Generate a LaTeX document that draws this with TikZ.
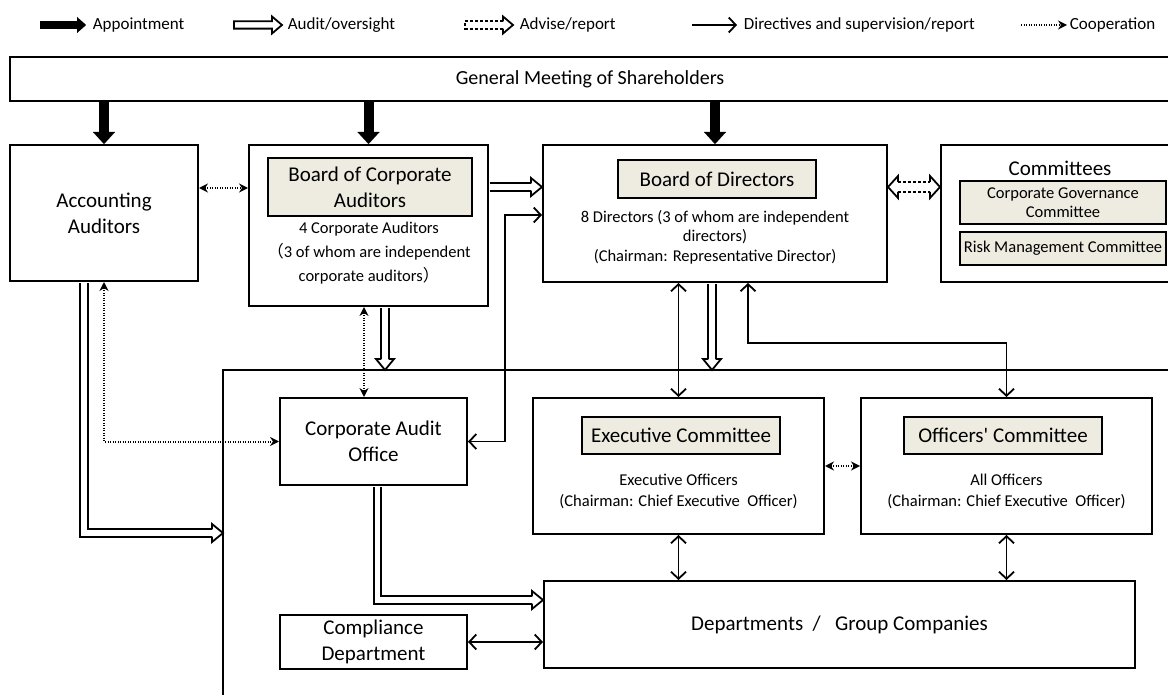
\documentclass[tikz,border=0pt]{standalone}
\usepackage{fontspec}
\setmainfont{Carlito}
\newfontfamily\cjkfont{Noto Sans CJK JP}
\usepackage{tikz}
\usetikzlibrary{arrows.meta,calc,positioning}
\definecolor{panel}{HTML}{EEECE1}

\tikzstyle{gov_style}=[
	x=1pt, y=-1pt, line width=1.8pt,
	box/.style={rectangle,draw,line width=2pt,inner sep=0pt,align=center},
	box_title/.style={rectangle,draw,fill=panel,line width=2pt,inner sep=0pt,align=center,font=\fontsize{21}{26}\selectfont},
	big_text/.style={inner sep=0pt,align=center,font=\fontsize{21}{26}\selectfont},
	small_text/.style={inner sep=0pt,align=center,font=\fontsize{16.5}{21}\selectfont},
	legend_text/.style={inner sep=0pt,anchor=west,font=\fontsize{17}{20}\selectfont},
	appoint_edge/.style={line width=10pt,-{Triangle[length=12pt,width=22pt,line width=0.01pt]}},
	direct_edge/.style={line width=1.8pt,>={Straight Barb[length=7pt,width=15pt]}},
	coop_edge/.style={line width=2pt,dash pattern=on 1.3pt off 1.2pt,>={Stealth[length=9pt,width=9pt]}},
	audit_edge/.style={line width=1.8pt,double,double distance=5.5pt,shorten >=11pt,shorten <=1pt},
	advise_edge/.style={line width=1.8pt,dash pattern=on 3pt off 2pt},
	frame_edge/.style={line width=1.8pt},
	hhead/.pic={\draw[fill=white,line width=1.8pt,line join=miter] (-11,3.65) -- (-11,9) -- (0,0) -- (-11,-9) -- (-11,-3.65);},
	hkey/.pic={\draw[fill=white,line width=1.8pt,line join=miter] (0,0) -- (-10,-8.5) -- (-10,-3.65) -- (-48,-3.65) -- (-48,3.65) -- (-10,3.65) -- (-10,8.5) -- cycle;},
	dkey/.pic={\draw[advise_edge] (-10,-3.65) -- (-48,-3.65) -- (-48,3.65) -- (-10,3.65);
		\draw[line width=1.8pt,line join=miter] (-10,-3.65) -- (-10,-8.5) -- (0,0) -- (-10,8.5) -- (-10,3.65);}
]

\begin{document}
\begin{tikzpicture}[gov_style]
		\useasboundingbox (0,0) rectangle (1168,695);
		
		% legend
		\node[legend_text]   (k1) at (92,25)   {Appointment};
		\node[legend_text]   (k2) at (287,25)  {Audit/oversight};
		\node[legend_text]   (k3) at (519,25)  {Advise/report};
		\node[legend_text]   (k4) at (743,25)  {Directives and supervision/report};
		\node[legend_text]   (k5) at (1069,25) {Cooperation};
		
		\draw[appoint_edge,line width=8pt,-{Triangle[length=9pt,width=16pt,line width=0.01pt]}] ([xshift=-52pt]k1.west) -- ([xshift=-6pt]k1.west);
		\pic at ([xshift=-5pt]k2.west) {hkey};
		\pic at ([xshift=-6pt]k3.west) {dkey};
		\draw[direct_edge,->] ([xshift=-51pt]k4.west) -- ([xshift=-6pt]k4.west);
		\draw[coop_edge,->] ([xshift=-48pt]k5.west) -- ([xshift=-2pt]k5.west);
		
		% top row
		\node[box,font=\fontsize{20}{22}\selectfont,minimum width=1160pt,minimum height=44pt] (gm) at (590,79) {General Meeting of Shareholders};
		
		\node[box,big_text,minimum width=188pt,minimum height=136pt] (accnt) at (104,213) {Accounting\\Auditors};
		
		\node[box,minimum width=239pt,minimum height=161pt] (bca) at (368.5,225.5) {};
		\node[box_title,minimum width=204pt,minimum height=58pt] (bca_t) at (370,187) {Board of Corporate\\Auditors};
		\node[small_text,font=\fontsize{16.5}{24}\selectfont] (bca_n) at (369,253) {4 Corporate Auditors\\{\cjkfont （}3 of whom are independent\\corporate auditors{\cjkfont ）}};
		
		\node[box,minimum width=344pt,minimum height=137pt] (bod) at (715,213.5) {};
		\node[box_title,minimum width=198pt,minimum height=38pt] (bod_t) at (717,179) {Board of Directors};
		\node[small_text,font=\fontsize{16.5}{19.5}\selectfont] (bod_n) at (715,237) {8 Directors (3 of whom are independent\\directors)\\(Chairman: Representative Director)};
		
		\node[box,minimum width=238pt,minimum height=137pt] (comm) at (1060,213.5) {};
		\node[big_text] (comm_l) at (1060,168) {Committees};
		\node[box_title,small_text,minimum width=206pt,minimum height=43pt,font=\fontsize{16.5}{18.5}\selectfont] (cg) at (1063,202.5) {Corporate Governance\\Committee};
		\node[box_title,small_text,minimum width=206pt,minimum height=33pt,font=\fontsize{16.5}{18.5}\selectfont] (rm) at (1063,248.5) {Risk Management Committee};
		
		% lower part
		\coordinate (fr) at (223,370);
		\coordinate (fr_b) at (223,700);
		\coordinate (fr_r) at (1175,370);
		\draw[frame_edge] (fr_b) -- (fr) -- (fr_r);
		
		\node[box,big_text,minimum width=187pt,minimum height=87pt] (office) at (373.5,441.5) {Corporate Audit\\Office};
		
		\node[box,minimum width=291pt,minimum height=136pt] (exec) at (678.5,466) {};
		\node[box_title,minimum width=198pt,minimum height=37pt] (exec_t) at (681,435.5) {Executive Committee};
		\node[small_text] (exec_n) at (678.5,491) {Executive Officers\\(Chairman: Chief Executive\ \ Officer)};
		
		\node[box,minimum width=291pt,minimum height=136pt] (offc) at (1006.5,466) {};
		\node[box_title,minimum width=198pt,minimum height=37pt] (offc_t) at (1003,435.5) {Officers\textquotesingle{} Committee};
		\node[small_text] (offc_n) at (1006.5,491) {All Officers\\(Chairman: Chief Executive\ \ Officer)};
		
		\node[box,big_text,minimum width=591pt,minimum height=87pt] (dept) at (839.5,624.5) {Departments\ \ /\ \ \ Group Companies};
		\node[box,big_text,minimum width=187pt,minimum height=54pt] (comp) at (373.5,642) {Compliance\\Department};
		
		% appointment
		\draw[appoint_edge] (accnt.north |- gm.south) -- (accnt.north);
		\draw[appoint_edge] (bca.north |- gm.south) -- (bca.north);
		\draw[appoint_edge] (bod.north |- gm.south) -- (bod.north);
		
		% audit / oversight
		\draw[audit_edge] (bca.east |- 0,187) -- (bod.west |- 0,187);
		\pic at (bod.west |- 0,187) {hhead};
		\draw[audit_edge] (bca.south -| 385,0) -- (fr -| 385,0);
		\pic[rotate=-90] at (fr -| 385,0) {hhead};
		\draw[audit_edge] (bod.south -| 712,0) -- (fr -| 712,0);
		\pic[rotate=-90] at (fr -| 712,0) {hhead};
		\draw[audit_edge] (accnt.south -| 84,0) |- (fr |- 0,533);
		\pic at (fr |- 0,533) {hhead};
		\draw[audit_edge] (office.south -| 377.5,0) |- (dept.west |- 0,600);
		\pic at (dept.west |- 0,600) {hhead};
		
		% advise / report
		\coordinate (da) at (bod.east |- 0,187);
		\coordinate (db) at (comm.west |- 0,187);
		\draw[advise_edge] ($(da)+(10,-5)$) -- ($(db)+(-10,-5)$)
		($(da)+(10,5)$) -- ($(db)+(-10,5)$);
		\draw[line join=miter] ($(da)+(10,-5)$) -- ($(da)+(10,-11)$) -- (da) -- ($(da)+(10,11)$) -- ($(da)+(10,5)$);
		\draw[line join=miter] ($(db)+(-10,-5)$) -- ($(db)+(-10,-11)$) -- (db) -- ($(db)+(-10,11)$) -- ($(db)+(-10,5)$);
		
		% directives and supervision / report
		\coordinate (bend) at (505,215);
		\coordinate (knee) at (748,343);
		\draw[direct_edge,<->] (office.east) -| (bend) -- (bod.west |- bend);
		\draw[direct_edge,<->] (bod.south -| exec.north) -- (exec.north);
		\draw[direct_edge,<->] (bod.south -| knee) -- (knee) -| (offc.north);
		\draw[direct_edge,<->] (exec.south) -- (exec.south |- dept.north);
		\draw[direct_edge,<->] (offc.south) -- (offc.south |- dept.north);
		\draw[direct_edge,<->] (comp.east) -- (dept.west |- comp.east);
		
		% cooperation
		\draw[coop_edge,<->] (accnt.east |- 0,188) -- (bca.west |- 0,188);
		\draw[coop_edge,<->] (bca.south -| 364,0) -- (office.north -| 364,0);
		\draw[coop_edge,<->] (accnt.south) |- (office.west);
		\draw[coop_edge,<->] (exec.east) -- (offc.west);
		
\end{tikzpicture}
\end{document}
